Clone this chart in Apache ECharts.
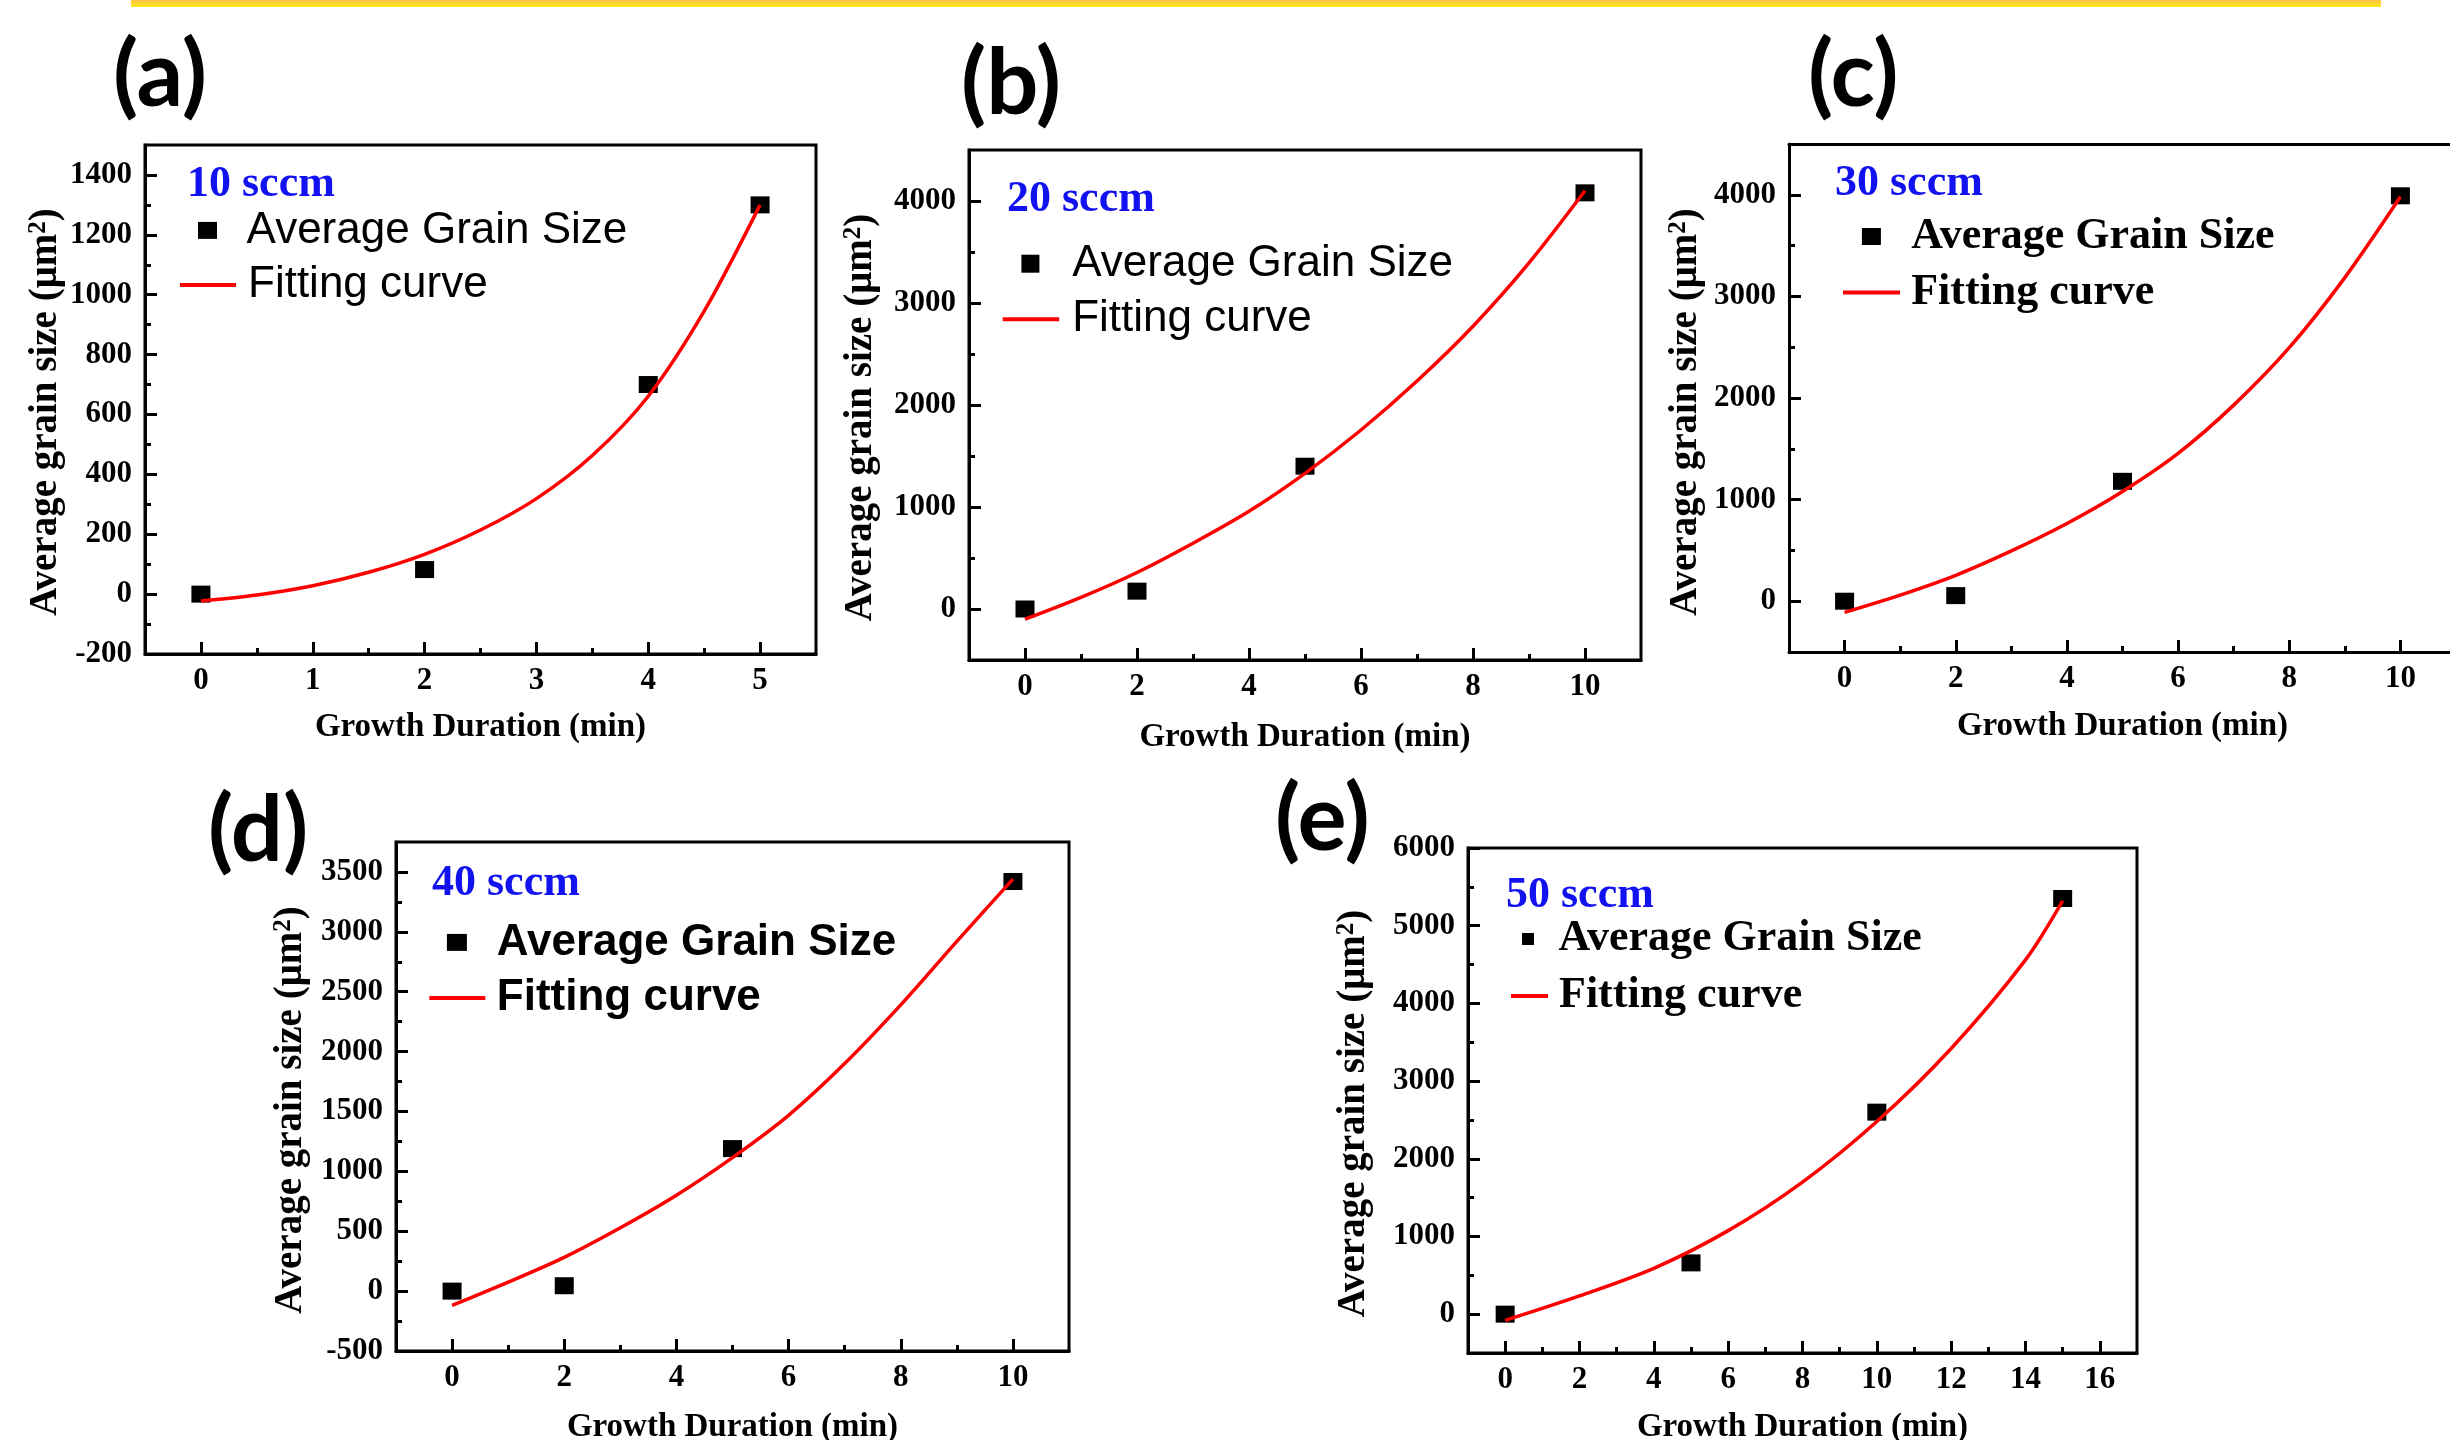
<!DOCTYPE html>
<html><head><meta charset="utf-8">
<script src="https://cdn.jsdelivr.net/npm/echarts@6/dist/echarts.min.js"></script>
<style>html,body{margin:0;padding:0;background:#fff}#c{width:2450px;height:1440px}</style>
</head><body><div id="c"></div>
<script>
// ---------- data ----------
const panelLabels = ['(a)', '(b)', '(c)', '(d)', '(e)'];
const flowLabels = ['10 sccm', '20 sccm', '30 sccm', '40 sccm', '50 sccm'];
const pointName = 'Average Grain Size';
const curveName = 'Fitting curve';
const xTitle = 'Growth Duration (min)';
const yTitleMain = 'Average grain size (\u03bcm';
const yTitleSup = '2';

// (a) 10 sccm
const aTime = [0, 2, 4, 5];
const aSize = [0, 82, 700, 1300];
const aFitTime = [0, 0.5, 1, 1.5, 2, 2.5, 3, 3.5, 4, 4.5, 5];
const aFitSize = [-23, -3, 28, 73, 133, 214, 319, 463, 661, 945, 1300];
const aXTicks = [0, 1, 2, 3, 4, 5];
const aXMinor = [0.5, 1.5, 2.5, 3.5, 4.5];
const aYTicks = [-200, 0, 200, 400, 600, 800, 1000, 1200, 1400];
const aYMinor = [-100, 100, 300, 500, 700, 900, 1100, 1300];

// (b) 20 sccm
const bTime = [0, 2, 5, 10];
const bSize = [0, 175, 1400, 4080];
const bFitTime = [0, 1, 2, 3, 4, 5, 6, 7, 8, 9, 10];
const bFitSize = [-100, 114, 358, 645, 958, 1330, 1755, 2235, 2772, 3393, 4100];
const bXTicks = [0, 2, 4, 6, 8, 10];
const bXMinor = [1, 3, 5, 7, 9];
const bYTicks = [0, 1000, 2000, 3000, 4000];
const bYMinor = [500, 1500, 2500, 3500];

// (c) 30 sccm
const cTime = [0, 2, 5, 10];
const cSize = [0, 55, 1180, 3990];
const cFitTime = [0, 1, 2, 3, 4, 5, 6, 7, 8, 9, 10];
const cFitSize = [-110, 60, 255, 495, 765, 1080, 1455, 1930, 2495, 3185, 3980];
const cXTicks = [0, 2, 4, 6, 8, 10];
const cXMinor = [1, 3, 5, 7, 9];
const cYTicks = [0, 1000, 2000, 3000, 4000];
const cYMinor = [500, 1500, 2500, 3500];

// (d) 40 sccm
const dTime = [0, 2, 5, 10];
const dSize = [0, 45, 1190, 3420];
const dFitTime = [0, 1, 2, 3, 4, 5, 6, 7, 8, 9, 10];
const dFitSize = [-120, 75, 282, 529, 801, 1115, 1468, 1900, 2390, 2920, 3440];
const dXTicks = [0, 2, 4, 6, 8, 10];
const dXMinor = [1, 3, 5, 7, 9];
const dYTicks = [-500, 0, 500, 1000, 1500, 2000, 2500, 3000, 3500];
const dYMinor = [-250, 250, 750, 1250, 1750, 2250, 2750, 3250];

// (e) 50 sccm
const eTime = [0, 5, 10, 15];
const eSize = [0, 660, 2600, 5350];
const eFitTime = [0, 2, 4, 6, 8, 10, 12, 14, 15];
const eFitSize = [-80, 235, 590, 1075, 1700, 2480, 3420, 4560, 5320];
const eXTicks = [0, 2, 4, 6, 8, 10, 12, 14, 16];
const eXMinor = [1, 3, 5, 7, 9, 11, 13, 15];
const eYTicks = [0, 1000, 2000, 3000, 4000, 5000, 6000];
const eYMinor = [500, 1500, 2500, 3500, 4500, 5500];

// ---------- styling / layout ----------
const FONT_SERIF = '"Liberation Serif", "Times New Roman", serif';
const FONT_SANS = '"Liberation Sans", Arial, sans-serif';

const panels = [
  { time: aTime, size: aSize, fitTime: aFitTime, fitSize: aFitSize, xTicks: aXTicks, xMinor: aXMinor, yTicks: aYTicks, yMinor: aYMinor },
  { time: bTime, size: bSize, fitTime: bFitTime, fitSize: bFitSize, xTicks: bXTicks, xMinor: bXMinor, yTicks: bYTicks, yMinor: bYMinor },
  { time: cTime, size: cSize, fitTime: cFitTime, fitSize: cFitSize, xTicks: cXTicks, xMinor: cXMinor, yTicks: cYTicks, yMinor: cYMinor },
  { time: dTime, size: dSize, fitTime: dFitTime, fitSize: dFitSize, xTicks: dXTicks, xMinor: dXMinor, yTicks: dYTicks, yMinor: dYMinor },
  { time: eTime, size: eSize, fitTime: eFitTime, fitSize: eFitSize, xTicks: eXTicks, xMinor: eXMinor, yTicks: eYTicks, yMinor: eYMinor }
];

const layout = [
  { grid: { left: 145, top: 145, width: 671, height: 509 }, xMin: -0.5, xMax: 5.5, yMin: -200, yMax: 1500,
    yNameGap: 79, yShift: 25, xNameGap: 57, label: { left: 113, top: 30 }, flow: { left: 187, top: 163 },
    leg: [ { left: 198, top: 201.6, w: 19, h: 17, pad: [0, 0, 7.6, 24.6] },
           { left: 180, top: 256.5, w: 56, h: 4, pad: [0, 0, 7, 7] } ],
    legFont: { fontFamily: FONT_SANS, fontWeight: 'normal' } },
  { grid: { left: 969, top: 150, width: 672, height: 510 }, xMin: -1, xMax: 11, yMin: -500, yMax: 4500,
    yNameGap: 88, yShift: 25, xNameGap: 61, label: { left: 961, top: 38 }, flow: { left: 1007, top: 177.5 },
    leg: [ { left: 1021.4, top: 236.4, w: 18, h: 18, pad: [0, 0, 4.6, 27.9] },
           { left: 1002.7, top: 292, w: 56.5, h: 4, pad: [0, 0, 4.6, 8] } ],
    legFont: { fontFamily: FONT_SANS, fontWeight: 'normal' } },
  { grid: { left: 1789, top: 144, width: 667, height: 508 }, openRight: true, xMin: -1, xMax: 11, yMin: -500, yMax: 4500,
    yNameGap: 83, yShift: 28, xNameGap: 58, label: { left: 1808, top: 30.5 }, flow: { left: 1835, top: 162 },
    leg: [ { left: 1861.9, top: 206.2, w: 19, h: 17, pad: [0, 0, 10.6, 25.3] },
           { left: 1843, top: 261.3, w: 57, h: 4, pad: [0, 0, 12.2, 6.2] } ],
    legFont: { fontFamily: FONT_SERIF, fontWeight: 'bold' } },
  { grid: { left: 396, top: 842, width: 673, height: 509 }, xMin: -1, xMax: 11, yMin: -500, yMax: 3750,
    yNameGap: 85, yShift: 27, xNameGap: 60, label: { left: 208, top: 785 }, flow: { left: 432, top: 862 },
    leg: [ { left: 446.9, top: 914.6, w: 20, h: 17, pad: [0, 0, 5.6, 24.9] },
           { left: 429.3, top: 971, w: 56, h: 4, pad: [0, 0, 4, 6.5] } ],
    legFont: { fontFamily: FONT_SANS, fontWeight: 'bold' } },
  { grid: { left: 1468, top: 848, width: 669, height: 505 }, xMin: -1, xMax: 17, yMin: -500, yMax: 6000,
    yNameGap: 94, yShift: 26, xNameGap: 58, label: { left: 1275, top: 774.5 }, flow: { left: 1506, top: 873.5 },
    leg: [ { left: 1522, top: 907.7, w: 12, h: 12, pad: [0, 0, 12.6, 19.5] },
           { left: 1511, top: 962.5, w: 37, h: 4, pad: [0, 0, 16.8, 6] } ],
    legFont: { fontFamily: FONT_SERIF, fontWeight: 'bold' } }
];

const tickLabelStyle = { color: '#000', fontFamily: FONT_SERIF, fontWeight: 'bold', fontSize: 31 };
const axisTitleStyle = { color: '#000', fontFamily: FONT_SERIF, fontWeight: 'bold', fontSize: 33 };
const plainNumber = function (v) { return String(v); };
const frameLine = { color: '#000', width: 3 };

const grids = [], xAxes = [], yAxes = [], series = [], legends = [], titles = [];

panels.forEach(function (p, i) {
  const L = layout[i];
  grids.push(Object.assign({ show: !L.openRight, borderColor: '#000', borderWidth: 3, backgroundColor: 'transparent', outerBoundsMode: 'none', containLabel: false }, L.grid));

  const xi = xAxes.length, yi = yAxes.length;

  xAxes.push({
    type: 'value', gridIndex: i, min: L.xMin, max: L.xMax, position: 'bottom',
    axisLine: { show: true, onZero: false, lineStyle: frameLine },
    axisTick: { show: true, inside: true, length: 12, lineStyle: frameLine, customValues: p.xTicks },
    axisLabel: Object.assign({ show: true, margin: 11, customValues: p.xTicks, formatter: plainNumber }, tickLabelStyle),
    splitLine: { show: false },
    name: xTitle, nameLocation: 'middle', nameGap: L.xNameGap,
    nameTextStyle: Object.assign({ lineHeight: 33 }, axisTitleStyle)
  });
  xAxes.push({
    type: 'value', gridIndex: i, min: L.xMin, max: L.xMax, position: 'bottom', offset: 0,
    axisLine: { show: false, onZero: false },
    axisTick: { show: true, inside: true, length: 6, lineStyle: frameLine, customValues: p.xMinor },
    axisLabel: { show: false }, splitLine: { show: false }
  });
  if (L.openRight) {
    // top frame edge only (right edge is cropped off in the original figure)
    xAxes.push({
      type: 'value', gridIndex: i, min: L.xMin, max: L.xMax, position: 'top', offset: 0,
      axisLine: { show: true, onZero: false, lineStyle: frameLine },
      axisTick: { show: false }, axisLabel: { show: false }, splitLine: { show: false }
    });
  }

  yAxes.push({
    type: 'value', gridIndex: i, min: L.yMin, max: L.yMax, position: 'left',
    axisLine: { show: true, onZero: false, lineStyle: frameLine },
    axisTick: { show: true, inside: true, length: 12, lineStyle: frameLine, customValues: p.yTicks },
    axisLabel: Object.assign({ show: true, margin: 13, customValues: p.yTicks, formatter: plainNumber }, tickLabelStyle),
    splitLine: { show: false },
    name: '{t|' + yTitleMain + '}{s|' + yTitleSup + '}{t|)}',
    nameLocation: 'middle', nameGap: L.yNameGap,
    nameTextStyle: {
      padding: [0, L.yShift, 0, 0],
      rich: {
        t: { color: '#000', fontFamily: FONT_SERIF, fontWeight: 'bold', fontSize: 39, lineHeight: 40 },
        s: { color: '#000', fontFamily: FONT_SERIF, fontWeight: 'bold', fontSize: 25, lineHeight: 25, verticalAlign: 'top' }
      }
    }
  });
  yAxes.push({
    type: 'value', gridIndex: i, min: L.yMin, max: L.yMax, position: 'left', offset: 0,
    axisLine: { show: false, onZero: false },
    axisTick: { show: true, inside: true, length: 6, lineStyle: frameLine, customValues: p.yMinor },
    axisLabel: { show: false }, splitLine: { show: false }
  });

  series.push({
    type: 'scatter', name: pointName, xAxisIndex: xi, yAxisIndex: yi,
    data: p.time.map(function (t, k) { return [t, p.size[k]]; }),
    symbol: 'rect', symbolSize: [19, 17], itemStyle: { color: '#000', opacity: 1 }, z: 3, silent: true
  });
  series.push({
    type: 'line', name: curveName, xAxisIndex: xi, yAxisIndex: yi,
    data: p.fitTime.map(function (t, k) { return [t, p.fitSize[k]]; }),
    smooth: 0.3, symbol: 'none', showSymbol: false,
    lineStyle: { color: '#ff0000', width: 3.5 }, itemStyle: { color: '#ff0000' }, z: 4, silent: true
  });

  const names = [pointName, curveName];
  L.leg.forEach(function (g, k) {
    legends.push({
      show: true, selectedMode: false, orient: 'vertical', padding: 0,
      left: g.left, top: g.top, itemWidth: g.w, itemHeight: g.h,
      data: [{ name: names[k], icon: 'rect' }],
      itemStyle: { opacity: 1 },
      textStyle: Object.assign({ color: '#000', fontSize: 44, lineHeight: 50, padding: g.pad }, L.legFont)
    });
  });

  titles.push({
    text: panelLabels[i], left: L.label.left, top: L.label.top, padding: 0,
    textStyle: { color: '#000', fontFamily: 'Lato, "Open Sans", sans-serif', fontWeight: 'bold', fontSize: 92, lineHeight: 92 }
  });
  titles.push({
    text: flowLabels[i], left: L.flow.left, top: L.flow.top, padding: 0,
    textStyle: { color: '#1212f0', fontFamily: FONT_SERIF, fontWeight: 'bold', fontSize: 44, lineHeight: 44 }
  });
});

const chart = echarts.init(document.getElementById('c'), null, { renderer: 'canvas' });
chart.setOption({
  animation: false,
  backgroundColor: '#ffffff',
  title: titles,
  legend: legends,
  grid: grids,
  xAxis: xAxes,
  yAxis: yAxes,
  series: series,
  graphic: [{
    type: 'rect', silent: true,
    shape: { x: 131, y: 0, width: 2250, height: 7 },
    style: { fill: new echarts.graphic.LinearGradient(0, 0, 0, 1, [
      { offset: 0, color: '#ffc24a' }, { offset: 1, color: '#ffea1a' }]) }
  }]
});
</script></body></html>
